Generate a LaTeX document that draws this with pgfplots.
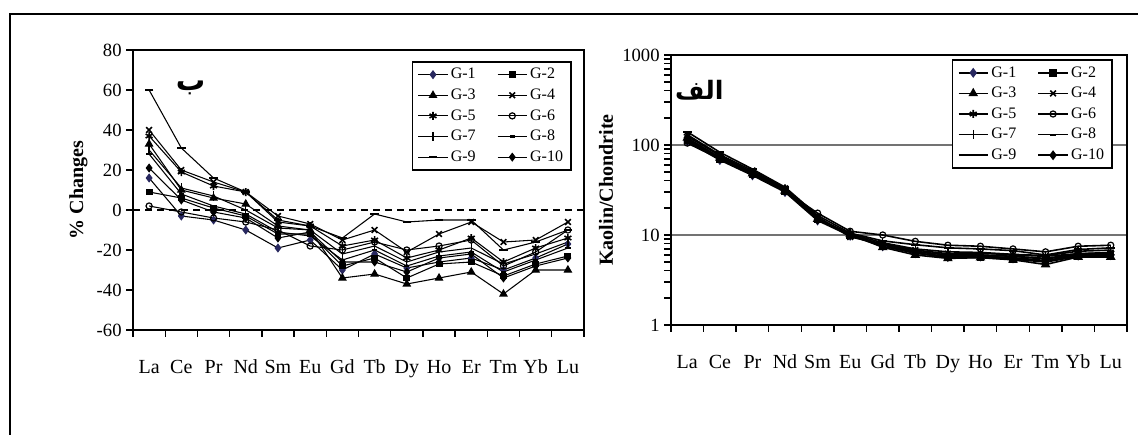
\documentclass[border=0pt]{standalone}
\usepackage{pgfplots}
\pgfplotsset{compat=1.18}
\usepackage{pgfplotstable}
\usepackage{fontspec}
\setmainfont{Liberation Serif}
\newfontfamily\arabicfont[Script=Arabic]{DejaVu Sans}
\TeXXeTstate=1
\definecolor{navy}{RGB}{40,40,95}

\pgfplotstableread{
x g1 g2 g3 g4 g5 g6 g7 g8 g9 g10
0 16 9 33 40 37 2 30 28 60 21
1 -3 6 10 20 19 -1 11 8 31 5
2 -5 1 6 14 12 -4 7 2 16 -1
3 -10 -3 3 9 9 -6 0 -2 9 -4
4 -19 -12 -8 -3 -6 -10 -9 -11 -5 -14
5 -15 -12 -10 -7 -8 -18 -10 -13 -8 -11
6 -30 -28 -34 -15 -18 -20 -22 -25 -14 -26
7 -22 -24 -32 -10 -15 -16 -18 -20 -2 -26
8 -29 -34 -37 -21 -24 -20 -26 -28 -6 -31
9 -26 -27 -34 -12 -20 -18 -21 -23 -5 -24
10 -24 -26 -31 -6 -14 -15 -19 -21 -5 -22
11 -30 -33 -42 -16 -26 -28 -27 -31 -20 -34
12 -24 -27 -30 -15 -19 -21 -22 -25 -16 -28
13 -17 -23 -30 -6 -14 -10 -16 -19 -10 -24
}\changes

\pgfplotstableread{
x g1 g2 g3 g4 g5 g6 g7 g8 g9 g10
0 110 112 120 130 125 105 118 115 140 113
1 68 70 72 78 76 70 73 72 83 71
2 46 47 48 52 50 48 49 48 54 47
3 30 31 31 33 33 31 32 31 34 31
4 14.5 15 15 16 15.5 17.5 15.2 15 16.5 14.8
5 9.8 10 10.2 9.5 10 11 10.3 10.1 10.5 10
6 7.5 7.6 7.3 8.0 7.8 10 8.2 7.8 8.6 7.6
7 6.3 6.3 6.0 6.8 6.5 8.5 7.0 6.6 7.8 6.3
8 5.8 5.6 5.5 6.2 6.0 7.7 6.5 6.0 7.2 5.7
9 5.8 5.6 5.6 6.3 6.0 7.5 6.4 6.0 7.0 5.8
10 5.6 5.4 5.3 6.0 5.8 7.0 6.1 5.8 6.7 5.5
11 5.2 5.0 4.7 5.8 5.4 6.5 5.9 5.5 6.0 5.1
12 6.0 5.8 5.7 6.2 6.1 7.5 6.6 6.2 6.9 5.9
13 6.0 5.9 5.7 6.4 6.3 7.7 6.8 6.3 7.2 6.0
}\kaolin

\pgfplotsset{
  gA/.style={black, line width=0.8pt, mark=diamond*, mark size=2.8pt, mark options={solid, draw=navy, fill=navy}},
  gB/.style={black, line width=0.8pt, mark=square*, mark size=2.2pt, mark options={solid}},
  gC/.style={black, line width=0.8pt, mark=triangle*, mark size=3pt, mark options={solid}},
  gD/.style={black, line width=0.8pt, mark=x, mark size=3pt, mark options={solid, line width=1.2pt}},
  gE/.style={black, line width=0.8pt, mark=asterisk, mark size=3pt, mark options={solid, line width=1.2pt}},
  gF/.style={black, line width=0.8pt, mark=o, mark size=2.3pt, mark options={solid, fill=white, line width=0.9pt}},
  gG/.style={black, line width=0.8pt, mark=|, mark size=3.5pt, mark options={solid, line width=1pt}},
  gH/.style={black, line width=0.8pt, mark=-, mark size=2pt, mark options={solid, line width=1.6pt}},
  gI/.style={black, line width=0.8pt, mark=-, mark size=3.2pt, mark options={solid, line width=1.6pt}},
  gJ/.style={black, line width=0.8pt, mark=diamond*, mark size=2.8pt, mark options={solid}},
  ree/.style={
    scale only axis,
    xmin=-0.5, xmax=13.5,
    xtick={0,...,13},
    xticklabels={La,Ce,Pr,Nd,Sm,Eu,Gd,Tb,Dy,Ho,Er,Tm,Yb,Lu},
    minor xtick={-0.5,0.5,...,13.5},
    every major x tick/.append style={draw=none},
    tick align=outside, xtick pos=bottom, ytick pos=left,
    major tick length=5pt, minor tick length=5pt,
    tick style={black, line width=1pt},
    axis line style={line width=2pt},
    xticklabel style={font=\fontsize{15}{17}\selectfont, yshift=-14pt},
    yticklabel style={font=\fontsize{14}{16}\selectfont},
    ylabel style={font=\fontsize{15}{17}\selectfont\bfseries},
    /pgf/number format/assume math mode=true,
    legend columns=2,
    legend cell align=left,
    legend style={font=\fontsize{12}{14}\selectfont, draw=black, line width=1.2pt,
      inner xsep=4pt, inner ysep=3pt, row sep=2pt,
      /tikz/every even column/.append style={column sep=14pt}},
    legend image code/.code={\draw[mark repeat=2,mark phase=2,#1] plot coordinates {(0pt,0pt) (11pt,0pt) (22pt,0pt)};},
  },
}

\begin{document}
\begin{tikzpicture}
\useasboundingbox (0pt,0pt) rectangle (853.5pt,326.25pt);
\draw[line width=2.2pt] (7.5pt,-2pt) -- (7.5pt,315.75pt) -- (856pt,315.75pt);

\begin{axis}[ree,
  at={(99.75pt,78.75pt)}, anchor=south west,
  width=338.25pt, height=210pt,
  ymin=-60, ymax=80, ytick={-60,-40,...,80},
  ylabel={\% Changes},
  legend style={at={(0.973,0.961)}, anchor=north east},
]
\addplot[forget plot, black, line width=1pt, dashed, dash pattern=on 5pt off 4pt] coordinates {(-0.5,0) (13.5,0)};
\addplot[gA] table[x=x,y=g1] {\changes};
\addplot[gB] table[x=x,y=g2] {\changes};
\addplot[gC] table[x=x,y=g3] {\changes};
\addplot[gD] table[x=x,y=g4] {\changes};
\addplot[gE] table[x=x,y=g5] {\changes};
\addplot[gF] table[x=x,y=g6] {\changes};
\addplot[gG] table[x=x,y=g7] {\changes};
\addplot[gH] table[x=x,y=g8] {\changes};
\addplot[gI] table[x=x,y=g9] {\changes};
\addplot[gJ] table[x=x,y=g10] {\changes};
\legend{G-1,G-2,G-3,G-4,G-5,G-6,G-7,G-8,G-9,G-10}
\node[font=\fontsize{22}{24}\selectfont\arabicfont\bfseries] at (rel axis cs:0.128,0.865) {\beginR ب\endR};
\end{axis}

\begin{axis}[ree,
  at={(503.25pt,82.5pt)}, anchor=south west,
  width=342pt, height=202.5pt,
  ymode=log, ymin=1, ymax=1000,
  ytick={1,10,100,1000}, yticklabels={1,10,100,1000},
  minor ytick={},
  ymajorgrids, grid style={line width=1.2pt, black!55},
  ylabel={Kaolin/Chondrite},
  legend style={at={(0.969,0.985)}, anchor=north east},
]
\addplot[gA, line width=1.2pt] table[x=x,y=g1] {\kaolin};
\addplot[gB, line width=1.2pt] table[x=x,y=g2] {\kaolin};
\addplot[gC, line width=1.2pt] table[x=x,y=g3] {\kaolin};
\addplot[gD, line width=1.2pt] table[x=x,y=g4] {\kaolin};
\addplot[gE, line width=1.2pt] table[x=x,y=g5] {\kaolin};
\addplot[gF, line width=1.2pt] table[x=x,y=g6] {\kaolin};
\addplot[gG, line width=1.2pt] table[x=x,y=g7] {\kaolin};
\addplot[gH, line width=1.2pt] table[x=x,y=g8] {\kaolin};
\addplot[gI, line width=1.2pt] table[x=x,y=g9] {\kaolin};
\addplot[gJ, line width=1.2pt] table[x=x,y=g10] {\kaolin};
\legend{G-1,G-2,G-3,G-4,G-5,G-6,G-7,G-8,G-9,G-10}
\node[font=\fontsize{19}{21}\selectfont\arabicfont\bfseries] at (rel axis cs:0.062,0.87) {\beginR الف\endR};
\end{axis}
\end{tikzpicture}
\end{document}
